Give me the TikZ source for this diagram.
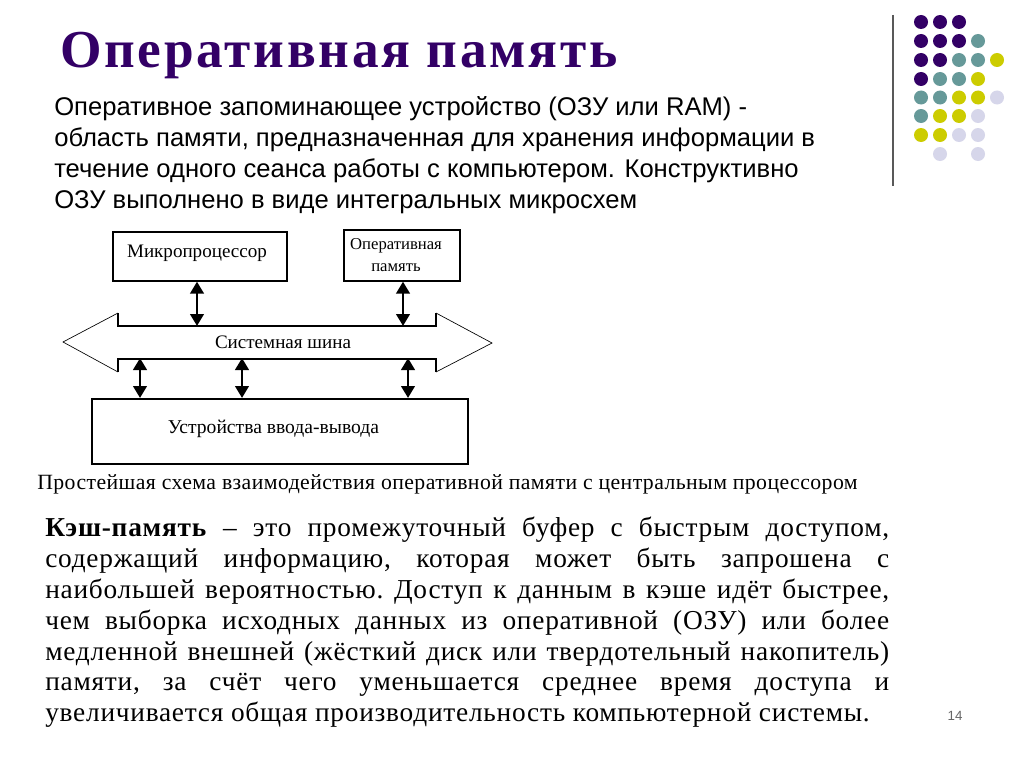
\documentclass[tikz,border=0pt]{standalone}
\usepackage{fontspec}
\setmainfont{Liberation Serif}
\newfontfamily\slidesans{Liberation Sans}
\newfontfamily\titleserif[LetterSpace=5.2]{Liberation Serif}
\newfontfamily\captionserif[LetterSpace=2]{Liberation Serif}
\newfontfamily\cacheserif[LetterSpace=2.8]{Liberation Serif}
\usetikzlibrary{arrows.meta}
\definecolor{dotpurple}{HTML}{330066}
\definecolor{dotteal}{HTML}{669999}
\definecolor{dotyellow}{HTML}{CCCC00}
\definecolor{dotlilac}{HTML}{D6D6EA}
\tikzset{
    boxnode/.style={draw=black, line width=1.2pt, inner sep=0pt},
    schemelabel/.style={inner sep=0pt, font=\fontsize{14.3}{16}\selectfont},
    busarrow/.style={{Triangle[width=10pt,length=9pt]}-{Triangle[width=10pt,length=9pt]}, line width=2.2pt},
    pdot/.style={fill=dotpurple},
    tdot/.style={fill=dotteal},
    ydot/.style={fill=dotyellow},
    ldot/.style={fill=dotlilac}
}

\begin{document}
\begin{tikzpicture}[x=0.75pt, y=-0.75pt]
        \useasboundingbox[fill=white] (0,0) rectangle (1024,767);

        \draw[pdot, draw=none] (921,22) circle (7);
        \draw[pdot, draw=none] (940,22) circle (7);
        \draw[pdot, draw=none] (959,22) circle (7);
        \draw[pdot, draw=none] (921,41) circle (7);
        \draw[pdot, draw=none] (940,41) circle (7);
        \draw[pdot, draw=none] (959,41) circle (7);
        \draw[tdot, draw=none] (978,41) circle (7);
        \draw[pdot, draw=none] (921,60) circle (7);
        \draw[pdot, draw=none] (940,60) circle (7);
        \draw[tdot, draw=none] (959,60) circle (7);
        \draw[tdot, draw=none] (978,60) circle (7);
        \draw[ydot, draw=none] (997,60) circle (7);
        \draw[pdot, draw=none] (921,79) circle (7);
        \draw[tdot, draw=none] (940,79) circle (7);
        \draw[tdot, draw=none] (959,79) circle (7);
        \draw[ydot, draw=none] (978,79) circle (7);
        \draw[tdot, draw=none] (921,97.5) circle (7);
        \draw[tdot, draw=none] (940,97.5) circle (7);
        \draw[ydot, draw=none] (959,97.5) circle (7);
        \draw[ydot, draw=none] (978,97.5) circle (7);
        \draw[ldot, draw=none] (997,97.5) circle (7);
        \draw[tdot, draw=none] (921,116) circle (7);
        \draw[ydot, draw=none] (940,116) circle (7);
        \draw[ydot, draw=none] (959,116) circle (7);
        \draw[ldot, draw=none] (978,116) circle (7);
        \draw[ydot, draw=none] (921,135) circle (7);
        \draw[ydot, draw=none] (940,135) circle (7);
        \draw[ldot, draw=none] (959,135) circle (7);
        \draw[ldot, draw=none] (978,135) circle (7);
        \draw[ldot, draw=none] (940,154) circle (7);
        \draw[ldot, draw=none] (978,154) circle (7);

        \draw[color=black!65, line width=1pt] (893,15)--(893,186);

        \node[anchor=base west, inner sep=0pt, text=dotpurple, font=\titleserif\fontsize{40}{44}\selectfont\bfseries] (title) at (60,68) {Оперативная память};

        \node[anchor=north west, inner sep=0pt, align=left, font=\slidesans\fontsize{19.2}{23.2}\selectfont] (intro) at (54,96) {Оперативное запоминающее устройство (ОЗУ или RAM) -\\область памяти, предназначенная для хранения информации в\\течение одного сеанса работы с компьютером. Конструктивно\\ОЗУ выполнено в виде интегральных микросхем};

        \node[boxnode, minimum width=130.5pt, minimum height=36.75pt, anchor=north west] (cpu) at (112,231) {};
        \node[schemelabel] (cpulabel) at (197,253) {Микропроцессор};
        \node[boxnode, minimum width=87pt, minimum height=38.25pt, anchor=north west] (ram) at (343,229) {};
        \node[schemelabel, font=\fontsize{12.5}{16.5}\selectfont, align=center] (ramlabel) at (396,255) {Оперативная\\память};
        \node[boxnode, minimum width=282pt, minimum height=48.75pt, anchor=north west] (io) at (91,398) {};
        \node[schemelabel, font=\fontsize{14.7}{16}\selectfont] (iolabel) at (273.5,429) {Устройства ввода-вывода};

        \node[schemelabel] (bus) at (283,342) {Системная шина};
        \draw[line width=1.1pt] (118,313)--(118,326)--(436,326)--(436,313);
        \draw[line width=1.1pt] (436,372)--(436,359)--(118,359)--(118,372);
        \draw[line width=0.5pt] (436,313)--(492,343)--(436,372);
        \draw[line width=0.5pt] (118,372)--(63,342)--(118,313);

        \coordinate (bustop1) at (197,326);
        \coordinate (bustop2) at (403,326);
        \coordinate (busbot1) at (140,358);
        \coordinate (busbot2) at (242,358);
        \coordinate (busbot3) at (408,358);

        \draw[busarrow] (cpu.south -| bustop1)--(bustop1);
        \draw[busarrow] (ram.south -| bustop2)--(bustop2);
        \draw[busarrow] (busbot1)--(io.north -| busbot1);
        \draw[busarrow] (busbot2)--(io.north -| busbot2);
        \draw[busarrow] (busbot3)--(io.north -| busbot3);

        \node[anchor=base west, inner sep=0pt, font=\captionserif\fontsize{16.3}{18}\selectfont] (caption) at (37,489) {Простейшая схема взаимодействия оперативной памяти с центральным процессором};

        \node[anchor=north west, inner sep=0pt, text width=633pt, align=justify, font=\cacheserif\fontsize{20.5}{23.1}\selectfont\frenchspacing] (cache) at (45,517) {\textbf{Кэш-память} – это промежуточный буфер с быстрым доступом,\linebreak содержащий информацию, которая может быть запрошена с\linebreak наибольшей вероятностью. Доступ к данным в кэше идёт быстрее,\linebreak чем выборка исходных данных из оперативной (ОЗУ) или более\linebreak медленной внешней (жёсткий диск или твердотельный накопитель)\linebreak памяти, за счёт чего уменьшается среднее время доступа и\linebreak увеличивается общая производительность компьютерной системы.};

        \node[inner sep=0pt, text=black!60, font=\slidesans\fontsize{10}{12}\selectfont] (pagenum) at (955,716) {14};
\end{tikzpicture}
\end{document}
